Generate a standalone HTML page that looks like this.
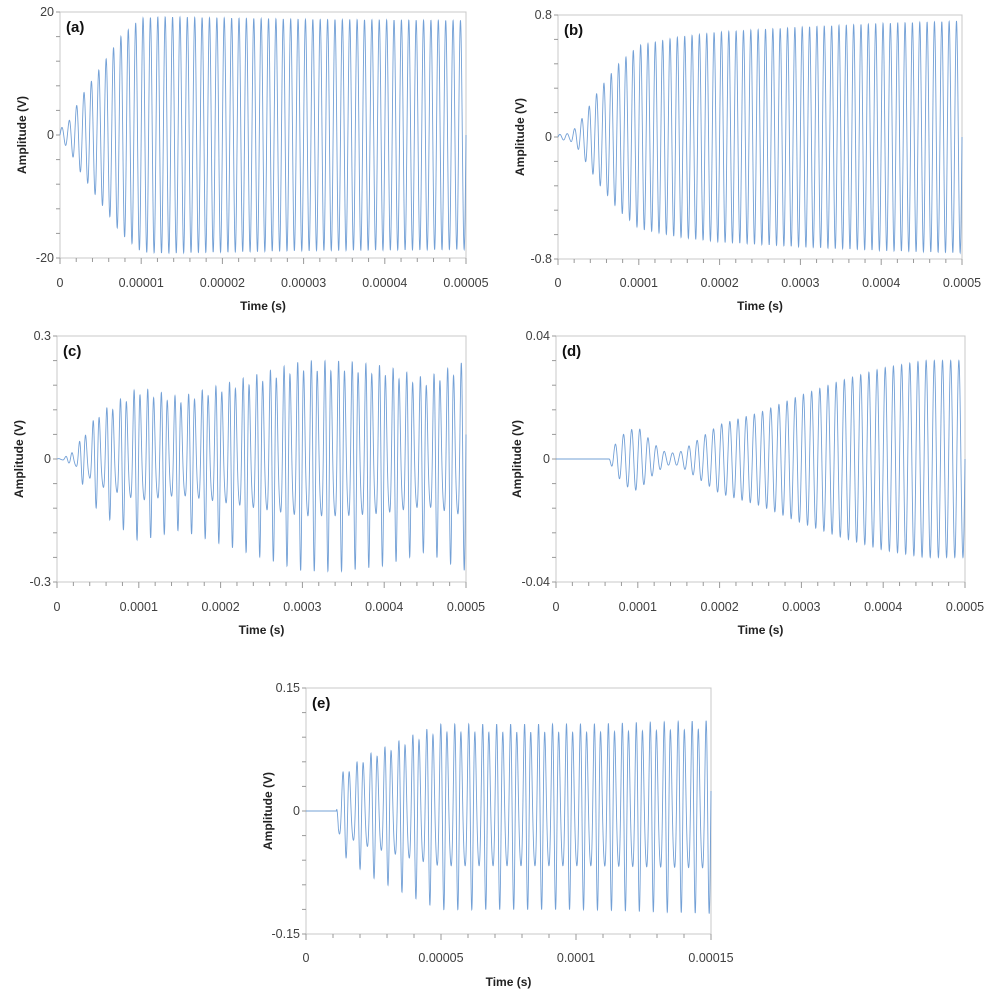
<!DOCTYPE html>
<html><head><meta charset="utf-8"><style>
body{margin:0;background:#fff;width:993px;height:1000px;overflow:hidden;font-family:"Liberation Sans",Arial,sans-serif}
svg{position:absolute;left:0;top:0}
</style></head><body>
<svg id="fig" width="993" height="1000" viewBox="0 0 993 1000"></svg>
<script>
// ---- Data (envelopes, normalized to y-axis max) ----
const panelIds = ["a","b","c","d","e"];
const xTickLabelsA = ["0","0.00001","0.00002","0.00003","0.00004","0.00005"];
const xTickLabelsB = ["0","0.0001","0.0002","0.0003","0.0004","0.0005"];
const xTickLabelsE = ["0","0.00005","0.0001","0.00015"];
const yTickLabelsA = ["20","0","-20"];
const yTickLabelsB = ["0.8","0","-0.8"];
const yTickLabelsC = ["0.3","0","-0.3"];
const yTickLabelsD = ["0.04","0","-0.04"];
const yTickLabelsE = ["0.15","0","-0.15"];
const envTimeA = [0,0.02,0.05,0.1,0.15,0.2,0.25,0.6,1];
const envValA  = [0.05,0.1,0.3,0.55,0.8,0.95,0.96,0.94,0.93];
const envTimeB = [0,0.03,0.05,0.1,0.15,0.2,0.3,0.4,0.6,0.8,1];
const envValB  = [0.02,0.03,0.1,0.38,0.6,0.75,0.82,0.86,0.9,0.93,0.95];
const envTimeC = [0,0.03,0.05,0.1,0.2,0.3,0.4,0.5,0.6,0.7,0.8,0.9,1];
const envValC  = [0,0.03,0.12,0.38,0.6,0.52,0.62,0.72,0.82,0.82,0.78,0.68,0.82];
const envTimeD = [0,0.13,0.14,0.17,0.2,0.24,0.27,0.3,0.34,0.4,0.5,0.6,0.7,0.8,0.9,1];
const envValD  = [0,0,0.1,0.22,0.26,0.12,0.05,0.05,0.14,0.28,0.38,0.52,0.64,0.74,0.8,0.8];
const envTimeE = [0,0.075,0.08,0.15,0.25,0.33,0.5,0.7,1];
const envValE  = [0,0,0.3,0.47,0.62,0.73,0.73,0.73,0.76];
const cyclesA = 55, cyclesB = 55, cyclesC = 60, cyclesD = 50, cyclesE = 58;

const panels = [
 {id:"a",L:60,R:466,T:12,B:258,xt:xTickLabelsA,yt:yTickLabelsA,et:envTimeA,ev:envValA,cyc:cyclesA,lblY:283,ttlY:306,ylx:22,minorX:5},
 {id:"b",L:558,R:962,T:15,B:259,xt:xTickLabelsB,yt:yTickLabelsB,et:envTimeB,ev:envValB,cyc:cyclesB,lblY:283,ttlY:306,ylx:520,minorX:5},
 {id:"c",L:57,R:466,T:336,B:582,xt:xTickLabelsB,yt:yTickLabelsC,et:envTimeC,ev:envValC,cyc:cyclesC,lblY:607,ttlY:630,ylx:19,minorX:5,harm:0.35},
 {id:"d",L:556,R:965,T:336,B:582,xt:xTickLabelsB,yt:yTickLabelsD,et:envTimeD,ev:envValD,cyc:cyclesD,lblY:607,ttlY:630,ylx:517,minorX:5},
 {id:"e",L:306,R:711,T:688,B:934,xt:xTickLabelsE,yt:yTickLabelsE,et:envTimeE,ev:envValE,cyc:cyclesE,lblY:958,ttlY:982,ylx:268,minorX:5,harm:0.3}
];
const NS="http://www.w3.org/2000/svg";
const svg=document.getElementById("fig");
function mk(tag,attrs,parent){const e=document.createElementNS(NS,tag);for(const k in attrs)e.setAttribute(k,attrs[k]);(parent||svg).appendChild(e);return e;}
function envAt(ts,vs,t){for(let i=1;i<ts.length;i++){if(t<=ts[i]){const f=(t-ts[i-1])/(ts[i]-ts[i-1]);return vs[i-1]+f*(vs[i]-vs[i-1]);}}return vs[vs.length-1];}

panels.forEach(p=>{
  const g=mk("g",{});
  
  
  const xS=f=>p.L+f*(p.R-p.L);
  const yS=v=>(p.T+p.B)/2-v*(p.B-p.T)/2;
  const box=mk("rect",{x:p.L,y:p.T,width:p.R-p.L,height:p.B-p.T,fill:"none",stroke:"#c8c8c8","stroke-width":1},g);
  
  
  const nMaj=p.xt.length-1, nMin=nMaj*p.minorX;
  for(let i=0;i<=nMin;i++){const x=xS(i/nMin);mk("line",{x1:x,x2:x,y1:p.B,y2:p.B+(i%p.minorX==0?6:4),stroke:"#999","stroke-width":1},g);}
  for(let i=0;i<=10;i++){const y=p.T+i*(p.B-p.T)/10;mk("line",{x1:p.L-4,x2:p.L,y1:y,y2:y,stroke:"#999","stroke-width":1},g);}
  p.xt.forEach((s,i)=>{const t=mk("text",{x:xS(i/nMaj),y:p.lblY+4,"text-anchor":"middle","font-size":12.5,fill:"#404040"},g);t.textContent=s;
    });
  p.yt.forEach((s,i)=>{const t=mk("text",{x:p.L-6,y:yS(1-i)+4,"text-anchor":"end","font-size":12.5,fill:"#404040"},g);t.textContent=s;
    });
  const xt=mk("text",{x:(p.L+p.R)/2,y:p.ttlY+4,"text-anchor":"middle","font-size":12,"font-weight":"bold",fill:"#222"},g);xt.textContent="Time (s)";
  
  const yc=(p.T+p.B)/2;
  const yt=mk("text",{x:p.ylx,y:yc,"text-anchor":"middle","font-size":12,"font-weight":"bold",fill:"#222",transform:`rotate(-90 ${p.ylx} ${yc}) translate(0 4)`},g);yt.textContent="Amplitude (V)";
  
  const pl=mk("text",{x:p.L+6,y:p.T+20,"font-size":15,"font-weight":"bold",fill:"#111"},g);pl.textContent="("+p.id+")";
  
  const N=4000;let d="";
  for(let i=0;i<=N;i++){const f=i/N;const e=envAt(p.et,p.ev,f);
    let s=Math.sin(2*Math.PI*p.cyc*f);
    if(p.harm){s=(s+p.harm*Math.sin(2*Math.PI*p.cyc*1.5*f+1))/(1+p.harm*0.6);}
    const v=Math.max(-1,Math.min(1,e*s));
    d+=(i?"L":"M")+xS(f).toFixed(2)+" "+yS(v).toFixed(2);}
  const path=mk("path",{d:d,fill:"none",stroke:"#5b8fcf","stroke-width":0.9,"stroke-opacity":0.85},g);
  
  
});
</script>
</body></html>
